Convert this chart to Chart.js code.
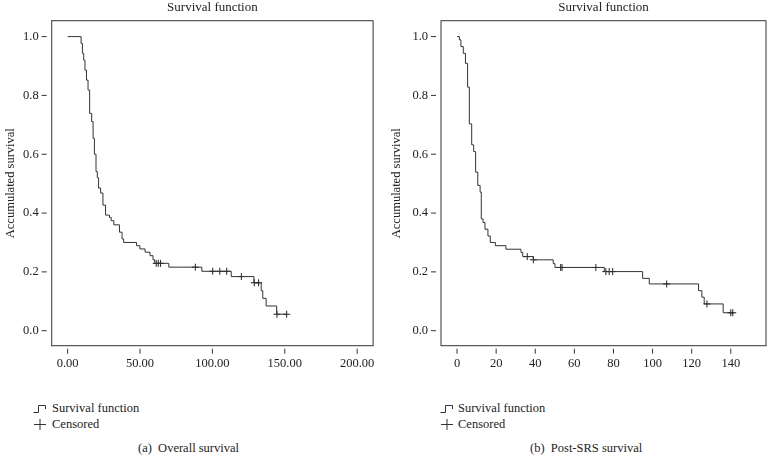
<!DOCTYPE html>
<html>
<head>
<meta charset="utf-8">
<script src="https://cdn.jsdelivr.net/npm/chart.js@4/dist/chart.umd.min.js"></script>
<style>
  body { margin: 0; background: #fff; font-family: 'Liberation Serif', serif; color: #222; }
  #page { position: relative; width: 772px; height: 467px; overflow: hidden; }
  .box { position: absolute; top: 0; width: 386px; height: 380px; }
  .leg { position: absolute; font-size: 12.5px; line-height: 14px; white-space: nowrap; }
  .leg svg { position: absolute; left: 0; top: 1px; }
  .leg span { position: absolute; }
  .cap { position: absolute; font-size: 12.5px; white-space: nowrap; }
</style>
</head>
<body>
<div id="page">
  <div class="box" style="left:0"><canvas id="overallChart"></canvas></div>
  <div class="box" style="left:386px"><canvas id="postChart"></canvas></div>

  <div class="leg" style="left:33px; top:401px">
    <svg width="14" height="12"><path d="M0.5 10.5 H5.5 V3.5 H12.5 V7" fill="none" stroke="#333" stroke-width="1"/></svg>
    <span style="left:19px">Survival function</span>
  </div>
  <div class="leg" style="left:33px; top:417px">
    <svg width="14" height="12"><path d="M1 6.5 H13 M7 1 V12" fill="none" stroke="#333" stroke-width="1"/></svg>
    <span style="left:19px">Censored</span>
  </div>
  <div class="cap" style="left:138px; top:441px">(a)&nbsp; Overall survival</div>

  <div class="leg" style="left:440px; top:401px">
    <svg width="14" height="12"><path d="M0.5 10.5 H5.5 V3.5 H12.5 V7" fill="none" stroke="#333" stroke-width="1"/></svg>
    <span style="left:18px">Survival function</span>
  </div>
  <div class="leg" style="left:440px; top:417px">
    <svg width="14" height="12"><path d="M1 6.5 H13 M7 1 V12" fill="none" stroke="#333" stroke-width="1"/></svg>
    <span style="left:18px">Censored</span>
  </div>
  <div class="cap" style="left:530px; top:441px">(b)&nbsp; Post-SRS survival</div>
</div>

<script>
// (a) overall survival: event times (months) and survival after each step
const overallTimes = [0, 9.3, 10.2, 11.1, 12.0, 13.0, 14.1, 15.2, 16.6, 17.6, 18.5, 19.6, 20.5, 21.4, 22.8, 24.4, 26.2, 28.9, 30.1, 31.9, 35.8, 37.6, 38.7, 47.6, 49.9, 53.5, 56.9, 59.0, 60.1, 69.9, 92.7, 113.0, 128.7, 133.7, 134.8, 137.1, 144.4, 151.3]
const overallSurv = [1.0, 0.977, 0.943, 0.920, 0.886, 0.852, 0.818, 0.739, 0.711, 0.654, 0.600, 0.541, 0.520, 0.485, 0.468, 0.427, 0.393, 0.385, 0.374, 0.360, 0.335, 0.312, 0.300, 0.289, 0.278, 0.267, 0.255, 0.241, 0.229, 0.216, 0.202, 0.184, 0.163, 0.136, 0.110, 0.084, 0.056, 0.056]
const overallCensTimes = [61.2, 62.6, 64.2, 88.2, 100.2, 105.1, 109.9, 120.0, 128.9, 131.9, 144.6, 151.3]
const overallCensSurv = [0.229, 0.229, 0.229, 0.216, 0.202, 0.202, 0.202, 0.184, 0.163, 0.163, 0.056, 0.056]
const overallXTicks = [0, 50, 100, 150, 200]

// (b) post-SRS survival
const postTimes = [0, 1.2, 2.0, 3.2, 4.3, 5.4, 6.3, 7.5, 8.5, 9.5, 10.6, 11.8, 12.4, 13.3, 14.3, 15.8, 17.0, 19.6, 25.0, 32.7, 33.6, 39.0, 49.2, 50.1, 75.3, 94.9, 98.3, 123.5, 125.2, 126.4, 136.1, 141.0]
const postSurv = [1.0, 0.989, 0.966, 0.943, 0.909, 0.828, 0.703, 0.632, 0.609, 0.539, 0.494, 0.471, 0.380, 0.368, 0.345, 0.322, 0.300, 0.289, 0.277, 0.266, 0.252, 0.241, 0.228, 0.215, 0.201, 0.178, 0.159, 0.136, 0.114, 0.091, 0.061, 0.061]
const postCensTimes = [35.9, 39.0, 53.0, 53.7, 71.0, 76.1, 77.8, 79.6, 107.2, 127.8, 140.0, 141.0]
const postCensSurv = [0.252, 0.241, 0.215, 0.215, 0.215, 0.201, 0.201, 0.201, 0.159, 0.091, 0.061, 0.061]
const postXTicks = [0, 20, 40, 60, 80, 100, 120, 140]

const yTicks = [0, 0.2, 0.4, 0.6, 0.8, 1.0]

const FONT = 'Liberation Serif'
const INK = '#333'
const CANVAS_H = 380

// frame round the plot and little detached tick marks, like the SPSS output
const framePlugin = {
  id: 'frame',
  afterDraw (chart) {
    const { ctx, chartArea: a, scales } = chart
    ctx.save()
    ctx.strokeStyle = INK
    ctx.lineWidth = 1
    ctx.strokeRect(a.left, a.top, a.right - a.left, a.bottom - a.top)
    ctx.beginPath()
    scales.y.ticks.forEach(t => {
      const py = scales.y.getPixelForValue(t.value)
      ctx.moveTo(a.left - 10, py)
      ctx.lineTo(a.left - 5, py)
    })
    scales.x.ticks.forEach(t => {
      const px = scales.x.getPixelForValue(t.value)
      ctx.moveTo(px, a.bottom + 3)
      ctx.lineTo(px, a.bottom + 8)
    })
    ctx.stroke()
    ctx.restore()
  }
}

function makeChart (canvasId, times, surv, censTimes, censSurv, xTicks, xMin, xMax, xFmt, yWidth) {
  const line = times.map((t, i) => ({ x: t, y: surv[i] }))
  const cens = censTimes.map((t, i) => ({ x: t, y: censSurv[i] }))

  return new Chart(document.getElementById(canvasId), {
    type: 'scatter',
    data: {
      datasets: [{
        label: 'Survival function',
        data: line,
        showLine: true,
        stepped: true,
        borderColor: INK,
        borderWidth: 1,
        pointRadius: 0
      }, {
        label: 'Censored',
        data: cens,
        pointStyle: 'cross',
        pointRadius: 3.5,
        borderColor: '#222',
        borderWidth: 1
      }]
    },
    options: {
      responsive: false,
      animation: false,
      layout: { padding: { right: 386 - yWidth - 325, top: 0, bottom: 0 } },
      plugins: {
        legend: { display: false },
        tooltip: { enabled: false },
        title: {
          display: true,
          text: 'Survival function',
          fullSize: false,
          color: '#222',
          font: { family: FONT, size: 13, weight: 'normal', lineHeight: 1.2 },
          padding: { top: 0, bottom: 5.1 }
        }
      },
      scales: {
        x: {
          type: 'linear',
          min: xMin,
          max: xMax,
          grid: { display: false, drawTicks: false },
          border: { display: false },
          afterBuildTicks: (scale) => { scale.ticks = xTicks.map(v => ({ value: v })) },
          afterFit: (scale) => { scale.height = CANVAS_H - 345.7 },
          ticks: {
            color: '#222',
            padding: 11,
            maxRotation: 0,
            font: { family: FONT, size: 12.5 },
            callback: xFmt
          }
        },
        y: {
          type: 'linear',
          min: -0.051,
          max: 1.054,
          grid: { display: false, drawTicks: false },
          border: { display: false },
          afterBuildTicks: (scale) => { scale.ticks = yTicks.map(v => ({ value: v })) },
          afterFit: (scale) => { scale.width = yWidth },
          title: {
            display: true,
            text: 'Accumulated survival',
            color: '#222',
            font: { family: FONT, size: 12.5, lineHeight: 1.2 },
            padding: { top: 3, bottom: 0 }
          },
          ticks: {
            color: '#222',
            padding: 13,
            font: { family: FONT, size: 12.5 },
            callback: v => v.toFixed(1)
          }
        }
      }
    },
    plugins: [framePlugin]
  })
}

function sizeCanvas (id) {
  const c = document.getElementById(id)
  c.width = 386
  c.height = CANVAS_H
  c.style.width = '386px'
  c.style.height = CANVAS_H + 'px'
}
sizeCanvas('overallChart')
sizeCanvas('postChart')

makeChart('overallChart', overallTimes, overallSurv, overallCensTimes, overallCensSurv,
  overallXTicks, -11, 211, v => v.toFixed(2), 51.7)
makeChart('postChart', postTimes, postSurv, postCensTimes, postCensSurv,
  postXTicks, -8.2, 158, v => String(v), 55)
</script>
</body>
</html>
